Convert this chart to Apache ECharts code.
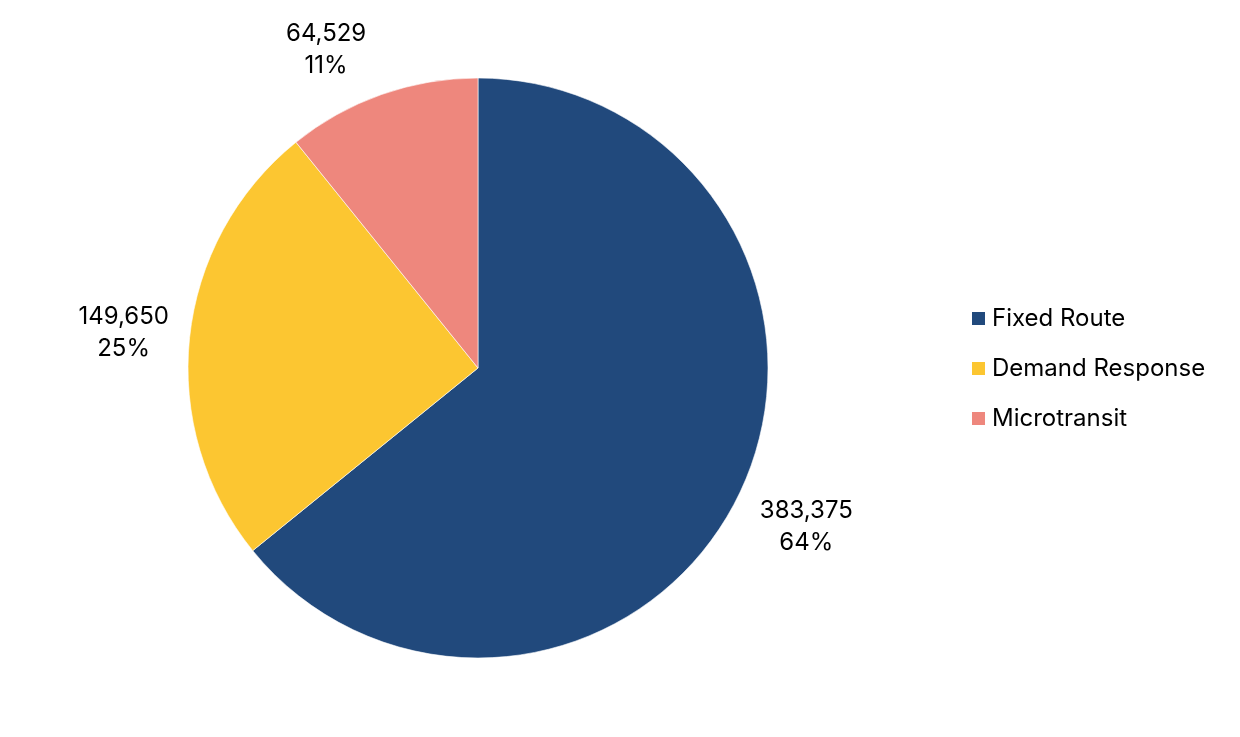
<!DOCTYPE html>
<html>
<head>
<meta charset="UTF-8">
<title>Ridership by mode</title>
<script src="https://cdn.jsdelivr.net/npm/echarts@6/dist/echarts.min.js"></script>
<style>
    html, body { margin: 0; padding: 0; background: #fff; }
    #main { width: 1240px; height: 737px; }
</style>
</head>
<body>
<div id="main"></div>
<script type="text/javascript">
    var modes = ['Fixed Route', 'Demand Response', 'Microtransit'];
    var trips = [383375, 149650, 64529];
    var colors = ['#21497C', '#FCC631', '#EE877D'];

    var myChart = echarts.init(document.getElementById('main'));

    var pieData = [];
    for (var i = 0; i < modes.length; i++) {
        pieData.push({ name: modes[i], value: trips[i], itemStyle: { color: colors[i] } });
    }

    var font = 'Inter, "Open Sans", sans-serif';
    var cx = 478, cy = 368, r = 290;
    var gap = 18, topMargin = 16;

    // place label box just outside the rim, sliding it along the circle if it hits the top
    function placeLabel(params) {
        var pts = params.labelLinePoints;
        if (!pts) return {};
        var w = params.labelRect.width, h = params.labelRect.height;
        var theta = Math.atan2(pts[0][0] - cx, -(pts[0][1] - cy));
        var step = theta < 0 ? -0.002 : 0.002;
        var x, y;
        for (var k = 0; k < 400; k++) {
            var dx = Math.sin(theta), dy = -Math.cos(theta);
            var d = r + gap + Math.abs(dx) * w / 2 + Math.abs(dy) * h / 2;
            x = cx + dx * d;
            y = cy + dy * d;
            if (y - h / 2 >= topMargin) break;
            theta += step;
        }
        return { x: x, y: y + 2, align: 'center', verticalAlign: 'middle' };
    }

    var option = {
        animation: false,
        legend: {
            orient: 'vertical',
            left: 965,
            top: 'middle',
            itemWidth: 15,
            itemHeight: 15,
            itemGap: 26,
            icon: 'rect',
            data: modes,
            textStyle: { fontFamily: font, fontSize: 24, color: '#000', padding: [0, 0, 0, 1] }
        },
        series: [{
            type: 'pie',
            center: [cx, cy],
            radius: r,
            startAngle: 90,
            clockwise: true,
            data: pieData,
            itemStyle: { borderColor: '#fff', borderWidth: 0.6 },
            label: {
                show: true,
                position: 'outside',
                fontFamily: font,
                fontSize: 24,
                lineHeight: 32,
                color: '#000',
                align: 'center',
                formatter: function (p) {
                    return p.value.toLocaleString('en-US') + '\n' + Math.round(p.percent) + '%';
                }
            },
            labelLine: { show: false, length: 20, length2: 0 },
            labelLayout: placeLabel
        }]
    };
    myChart.setOption(option);
</script>
</body>
</html>
